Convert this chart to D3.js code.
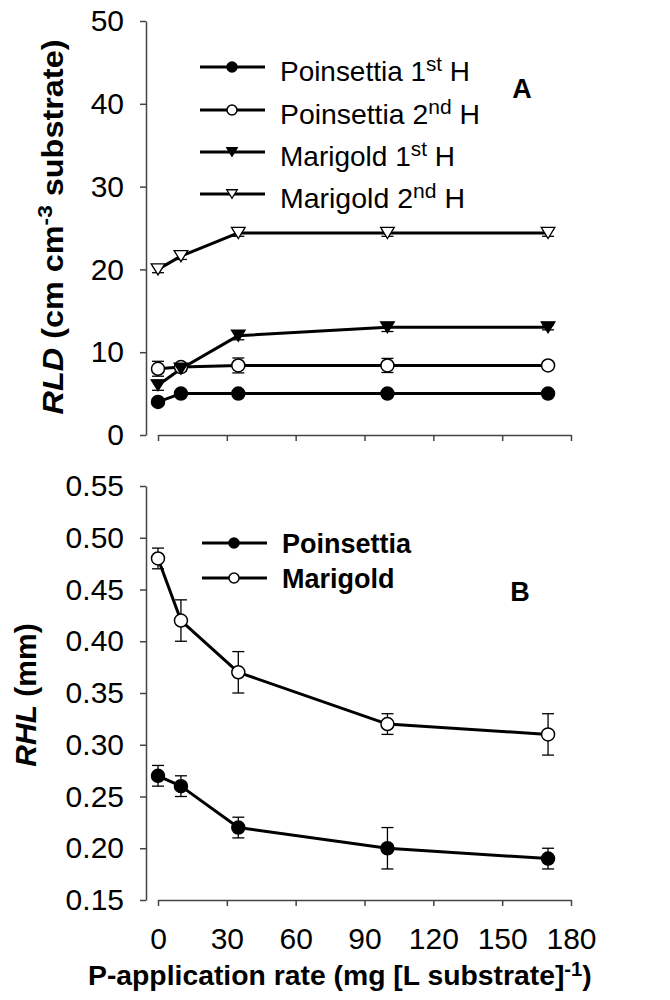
<!DOCTYPE html>
<html><head><meta charset="utf-8">
<script src="https://cdn.jsdelivr.net/npm/d3@7"></script>
<style>
body{margin:0;background:#fff;}
svg{display:block;font-family:"Liberation Sans",Arial,sans-serif;}
</style></head>
<body><svg id="c" width="670" height="1000"></svg>
<script>
// ---- data ----
const xVals = [0, 10, 35, 100, 170];
const xTicks = [0, 30, 60, 90, 120, 150, 180];
const rldTicks = [0, 10, 20, 30, 40, 50];
const rhlTicks = [0.15, 0.20, 0.25, 0.30, 0.35, 0.40, 0.45, 0.50, 0.55];

const rldPoin1 = [4.0, 5.0, 5.0, 5.0, 5.0];
const rldPoin1Err = [0.3, 0.2, 0.2, 0.2, 0.2];
const rldPoin2 = [8.0, 8.2, 8.4, 8.4, 8.4];
const rldPoin2Err = [0.9, 0.3, 0.9, 0.85, 0.4];
const rldMari1 = [6.0, 8.0, 12.0, 13.0, 13.0];
const rldMari1Err = [0.6, 0.3, 0.5, 0.5, 0.3];
const rldMari2 = [20.0, 21.6, 24.4, 24.4, 24.4];
const rldMari2Err = [0.4, 0.4, 0.4, 0.4, 0.4];

const rhlPoin = [0.27, 0.26, 0.22, 0.20, 0.19];
const rhlPoinErr = [0.01, 0.01, 0.01, 0.02, 0.01];
const rhlMari = [0.48, 0.42, 0.37, 0.32, 0.31];
const rhlMariErr = [0.01, 0.02, 0.02, 0.01, 0.02];

const topSeries = [
  {name: "Poinsettia 1", ord: "st", vals: rldPoin1, err: rldPoin1Err, shape: "circle", fill: "#000"},
  {name: "Poinsettia 2", ord: "nd", vals: rldPoin2, err: rldPoin2Err, shape: "circle", fill: "#fff"},
  {name: "Marigold 1", ord: "st", vals: rldMari1, err: rldMari1Err, shape: "tri", fill: "#000"},
  {name: "Marigold 2", ord: "nd", vals: rldMari2, err: rldMari2Err, shape: "tri", fill: "#fff"}
];
const botSeries = [
  {name: "Poinsettia", vals: rhlPoin, err: rhlPoinErr, shape: "circle", fill: "#000"},
  {name: "Marigold", vals: rhlMari, err: rhlMariErr, shape: "circle", fill: "#fff"}
];

// ---- layout ----
const svg = d3.select("#c");
const FONT = "Liberation Sans, Arial, sans-serif";
const axisX = 146;
const x = d3.scaleLinear().domain([0, 180]).range([158, 571]);
const yTop = d3.scaleLinear().domain([0, 50]).range([435, 21]);
const yBot = d3.scaleLinear().domain([0.15, 0.55]).range([900, 486]);

function styleAxis(g) {
  g.select(".domain").attr("stroke", "#444").attr("stroke-width", 1.5);
  g.selectAll(".tick line").attr("stroke", "#444").attr("stroke-width", 1.5);
  g.selectAll("text").attr("fill", "#000").style("font-family", FONT).style("font-size", "30px");
}

// Y axes
svg.append("g").attr("transform", `translate(${axisX},0)`)
  .call(d3.axisLeft(yTop).tickValues(rldTicks).tickSize(6).tickSizeOuter(0).tickPadding(16).tickFormat(d3.format("d")))
  .call(styleAxis);
svg.append("g").attr("transform", `translate(${axisX},0)`)
  .call(d3.axisLeft(yBot).tickValues(rhlTicks).tickSize(6).tickSizeOuter(0).tickPadding(16).tickFormat(d3.format(".2f")))
  .call(styleAxis);
// X axes
svg.append("g").attr("transform", `translate(0,${yTop(0)})`)
  .call(d3.axisBottom(x).tickValues(xTicks).tickSize(6).tickSizeOuter(0).tickFormat(""))
  .call(styleAxis);
svg.append("g").attr("transform", `translate(0,${yBot(0.15)})`)
  .call(d3.axisBottom(x).tickValues(xTicks).tickSize(6).tickSizeOuter(0).tickPadding(22).tickFormat(d3.format("d")))
  .call(styleAxis);

// marker drawing
function triPath(w, h) {
  return `M${-w/2},${-h/2}L${w/2},${-h/2}L0,${h/2}Z`;
}
function drawMarker(g, shape, fill, cx, cy, size) {
  if (shape === "circle") {
    g.append("circle").attr("cx", cx).attr("cy", cy).attr("r", size)
      .attr("fill", fill).attr("stroke", "#000").attr("stroke-width", 1.5);
  } else {
    g.append("path").attr("d", triPath(size * 2.1, size * 1.7))
      .attr("transform", `translate(${cx},${cy})`)
      .attr("fill", fill).attr("stroke", "#000").attr("stroke-width", 1.3);
  }
}

function drawSeries(series, y) {
  const line = d3.line().x((d, i) => x(xVals[i])).y(d => y(d));
  const gl = svg.append("g");
  series.forEach(s => {
    gl.append("path").attr("d", line(s.vals)).attr("fill", "none")
      .attr("stroke", "#000").attr("stroke-width", 3).attr("stroke-linejoin", "round");
  });
  const ge = svg.append("g").attr("stroke", "#000").attr("stroke-width", 1.3);
  series.forEach(s => {
    s.vals.forEach((v, i) => {
      const cx = x(xVals[i]);
      const y1 = y(v - s.err[i]), y2 = y(v + s.err[i]);
      ge.append("line").attr("x1", cx).attr("x2", cx).attr("y1", y1).attr("y2", y2);
      ge.append("line").attr("x1", cx - 6).attr("x2", cx + 6).attr("y1", y1).attr("y2", y1);
      ge.append("line").attr("x1", cx - 6).attr("x2", cx + 6).attr("y1", y2).attr("y2", y2);
    });
  });
  const gm = svg.append("g");
  series.forEach(s => {
    s.vals.forEach((v, i) => drawMarker(gm, s.shape, s.fill, x(xVals[i]), y(v), 6.5));
  });
}
drawSeries(topSeries, yTop);
drawSeries(botSeries, yBot);

// helpers to stretch text to a target width
function fitStart(t, x0, target) {
  const w = t.node().getBBox().width;
  const s = target / w;
  t.attr("transform", `translate(${x0},0) scale(${s},1) translate(${-x0},0)`);
}

// ---- legend top ----
const legTopY = [67, 110, 152, 194];
const legTopW = [190, 200, 175, 185];
topSeries.forEach((s, i) => {
  const ly = legTopY[i];
  const g = svg.append("g");
  g.append("line").attr("x1", 200).attr("x2", 265).attr("y1", ly).attr("y2", ly)
    .attr("stroke", "#000").attr("stroke-width", 3);
  drawMarker(g, s.shape, s.fill, 232, ly, 5);
  const t = g.append("text").attr("x", 280).attr("y", ly + 14)
    .style("font-family", FONT).style("font-size", "27px");
  t.append("tspan").text(s.name);
  t.append("tspan").attr("dy", -10).style("font-size", "20px").text(s.ord);
  t.append("tspan").attr("dy", 10).text(" H");
  fitStart(t, 280, legTopW[i]);
});
svg.append("text").attr("x", 522).attr("y", 98).attr("text-anchor", "middle")
  .style("font-family", FONT).style("font-size", "27px").style("font-weight", "bold").text("A");

// ---- legend bottom ----
const legBotY = [543, 578];
botSeries.forEach((s, i) => {
  const ly = legBotY[i];
  const g = svg.append("g");
  g.append("line").attr("x1", 202).attr("x2", 267).attr("y1", ly).attr("y2", ly)
    .attr("stroke", "#000").attr("stroke-width", 3);
  drawMarker(g, s.shape, s.fill, 234, ly, 5);
  g.append("text").attr("x", 282).attr("y", ly + 10)
    .style("font-family", FONT).style("font-size", "27px").style("font-weight", "bold").text(s.name);
});
svg.append("text").attr("x", 520).attr("y", 601).attr("text-anchor", "middle")
  .style("font-family", FONT).style("font-size", "27px").style("font-weight", "bold").text("B");

// ---- axis titles ----
function yTitle(cx, cy, parts, size, target) {
  const g = svg.append("g").attr("transform", `translate(${cx},${cy}) rotate(-90)`);
  const t = g.append("text").attr("x", 0).attr("y", 0).attr("text-anchor", "middle")
    .style("font-family", FONT).style("font-size", size + "px").style("font-weight", "bold");
  parts(t);
  if (target) {
    const w = t.node().getBBox().width;
    t.attr("transform", `scale(${target / w},1)`);
  }
}
yTitle(63, 227, t => {
  t.append("tspan").style("font-style", "italic").text("RLD");
  t.append("tspan").text(" (cm cm");
  t.append("tspan").attr("dy", -11).style("font-size", "21px").text("-3");
  t.append("tspan").attr("dy", 11).text(" substrate)");
}, 30, 375);
yTitle(36, 695, t => {
  t.append("tspan").style("font-style", "italic").text("RHL");
  t.append("tspan").text(" (mm)");
}, 30, 0);

const xt = svg.append("text").attr("x", 88).attr("y", 985)
  .style("font-family", FONT).style("font-size", "28px").style("font-weight", "bold");
xt.append("tspan").text("P-application rate (mg [L substrate]");
xt.append("tspan").attr("dy", -9).style("font-size", "20px").text("-1");
xt.append("tspan").attr("dy", 9).text(")");
fitStart(xt, 88, 504);
</script></body></html>
